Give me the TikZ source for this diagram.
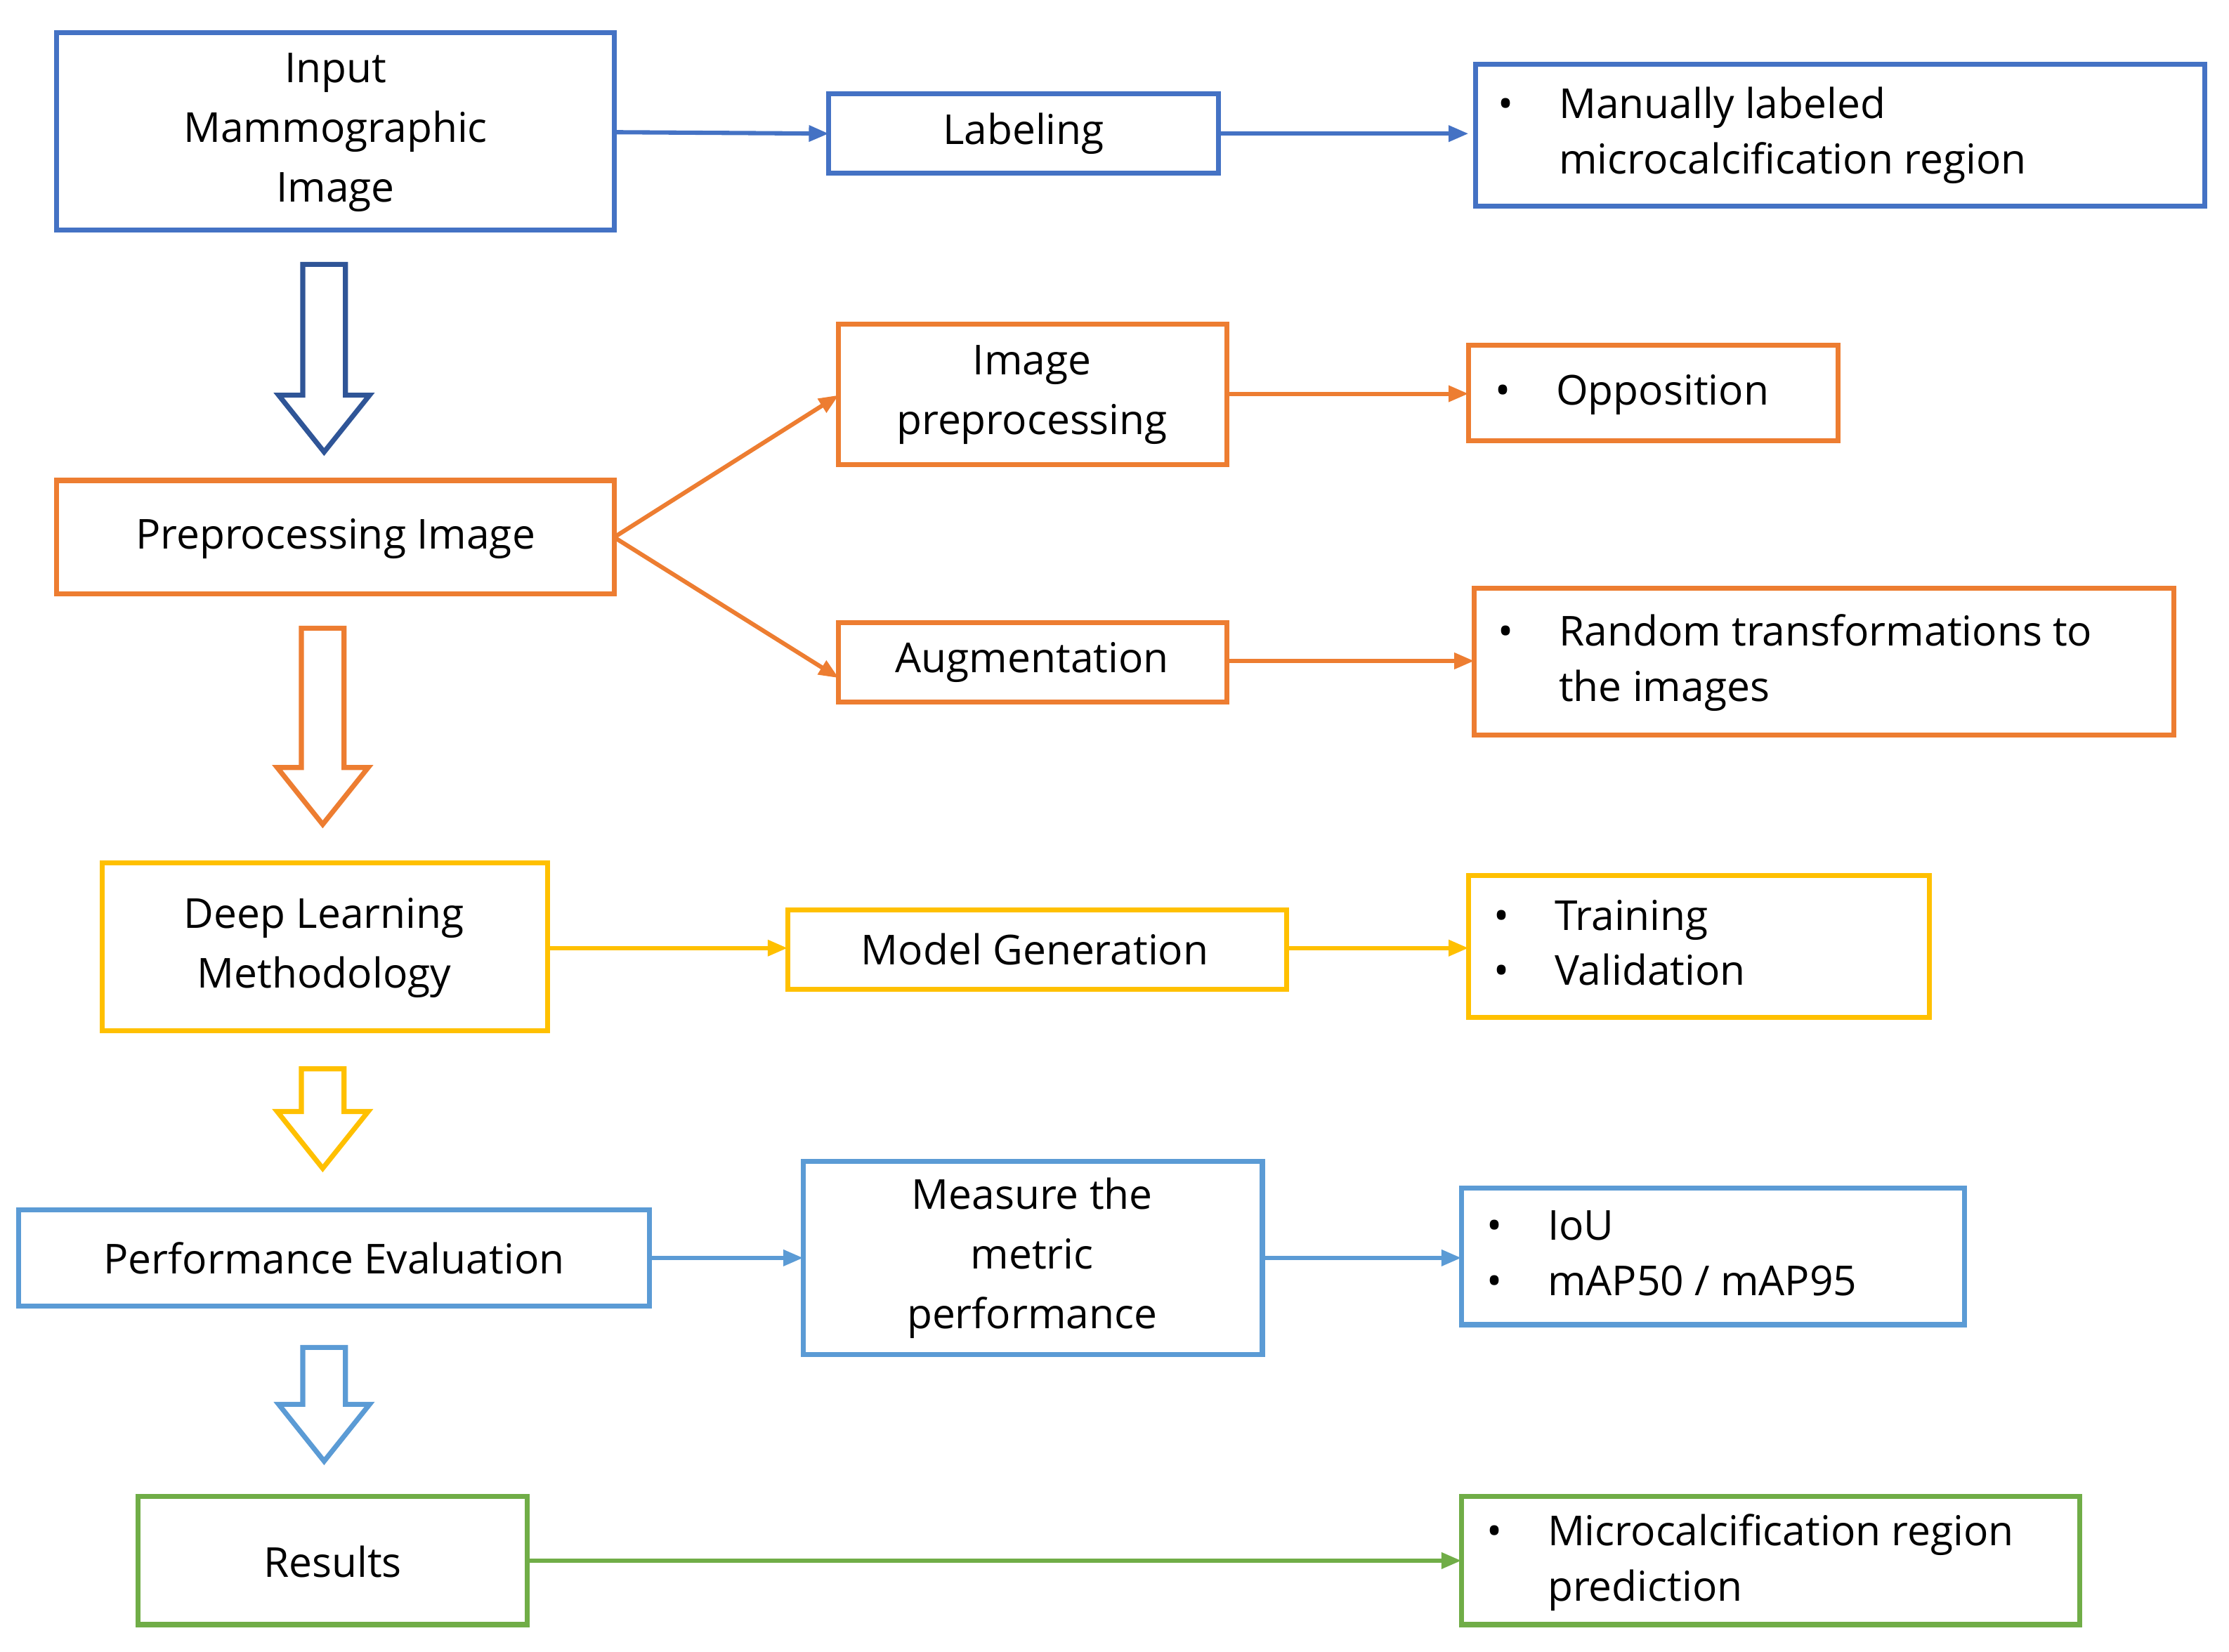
\documentclass[tikz,border=0pt]{standalone}
\usepackage{fontspec}
\setmainfont{Open Sans}
\usetikzlibrary{arrows.meta}
\definecolor{cb}{HTML}{4472C4}
\definecolor{cdb}{HTML}{2F5597}
\definecolor{co}{HTML}{ED7D31}
\definecolor{cy}{HTML}{FFC000}
\definecolor{cl}{HTML}{5B9BD5}
\definecolor{cg}{HTML}{70AD47}
\begin{document}
\begin{tikzpicture}[x=1pt,y=-1pt,line width=3.5pt,
  box/.style={draw=#1,inner sep=0pt,align=center,font=\fontsize{29}{42}\selectfont},
  txt/.style={anchor=west,inner sep=0pt,align=left,font=\fontsize{29}{39}\selectfont},
  con/.style={draw=#1,line width=3pt,-{Triangle[length=14pt,width=11pt]}}]
\useasboundingbox (0,0) rectangle (1568,1162);
\newcommand{\bx}[7]{\draw[#6] (#2,#3) rectangle (#4,#5); \node[box=#6] (#1) at ({(#2+#4)/2},{(#3+#5)/2}) [minimum width={#4-#2},minimum height={#5-#3}] {#7};}
\newcommand{\hollow}[4]{\draw[#4,line width=3.5pt,line join=miter] (#1-15,#2) -- (#1+15,#2) -- (#1+15,#3-40) -- (#1+32,#3-40) -- (#1,#3) -- (#1-32,#3-40) -- (#1-15,#3-40) -- cycle;}
\newcommand{\bl}{\textbullet}
% boxes
\draw[cb] (40,23) rectangle (432,162); \node[box=cb,draw=none] (inp) at (236,93) {Input\\Mammographic\\Image};
\coordinate (inpE) at (432,93);
\draw[cb] (583,66) rectangle (857,122); \node[box=cb,draw=none] (lab) at (720,94) {Labeling};
\draw[cb] (1038,45) rectangle (1551,145); \node[txt] (man) at (1052,95) {\begin{tabular}{@{}l@{\hspace{32pt}}l@{}}\bl&Manually labeled\\&microcalcification region\end{tabular}};
\draw[co] (40,338) rectangle (432,418); \node[box=co,draw=none] (pre) at (236,379) {Preprocessing Image};
\draw[co] (590,228) rectangle (863,327); \node[box=co,draw=none] (ipp) at (726,278) {Image\\preprocessing};
\draw[co] (1033,243) rectangle (1293,310); \node[txt] (opp) at (1050,277) {\begin{tabular}{@{}l@{\hspace{32pt}}l@{}}\bl&Opposition\end{tabular}};
\draw[co] (590,438) rectangle (863,494); \node[box=co,draw=none] (aug) at (726,466) {Augmentation};
\draw[co] (1037,414) rectangle (1529,517); \node[txt] (rnd) at (1052,466) {\begin{tabular}{@{}l@{\hspace{32pt}}l@{}}\bl&Random transformations to\\&the images\end{tabular}};
\draw[cy] (72,607) rectangle (385,725); \node[box=cy,draw=none] (dl) at (228,667) {Deep Learning\\Methodology};
\draw[cy] (554,640) rectangle (905,696); \node[box=cy,draw=none] (mg) at (728,668) {Model Generation};
\draw[cy] (1033,616) rectangle (1357,716); \node[txt] (tr) at (1049,666) {\begin{tabular}{@{}l@{\hspace{32pt}}l@{}}\bl&Training\\\bl&Validation\end{tabular}};
\draw[cl] (13,851) rectangle (457,919); \node[box=cl,draw=none] (pe) at (235,885) {Performance Evaluation};
\draw[cl] (565,817) rectangle (888,953); \node[box=cl,draw=none] (mm) at (726,885) {Measure the\\metric\\performance};
\draw[cl] (1028,836) rectangle (1382,932); \node[txt] (iou) at (1044,884) {\begin{tabular}{@{}l@{\hspace{32pt}}l@{}}\bl&IoU\\\bl&mAP50 / mAP95\end{tabular}};
\draw[cg] (97,1053) rectangle (371,1143); \node[box=cg,draw=none] (res) at (234,1099) {Results};
\draw[cg] (1028,1053) rectangle (1463,1143); \node[txt] (mp) at (1044,1099) {\begin{tabular}{@{}l@{\hspace{32pt}}l@{}}\bl&Microcalcification region\\&prediction\end{tabular}};
% connectors
\coordinate (a1) at (432,93); \coordinate (a2) at (583,94);
\draw[con=cb] (a1) -- (a2);
\coordinate (b1) at (857,94); \coordinate (b2) at (1033,94);
\draw[con=cb] (b1) -- (b2);
\coordinate (c0) at (432,378); \coordinate (c1) at (590,278); \coordinate (c2) at (590,477);
\draw[con=co] (c0) -- (c1); \draw[con=co] (c0) -- (c2);
\coordinate (d1) at (863,277); \coordinate (d2) at (1033,277);
\draw[con=co] (d1) -- (d2);
\coordinate (e1) at (863,465); \coordinate (e2) at (1037,465);
\draw[con=co] (e1) -- (e2);
\coordinate (f1) at (385,667); \coordinate (f2) at (554,667);
\draw[con=cy] (f1) -- (f2);
\coordinate (g1) at (905,667); \coordinate (g2) at (1033,667);
\draw[con=cy] (g1) -- (g2);
\coordinate (h1) at (457,885); \coordinate (h2) at (565,885);
\draw[con=cl] (h1) -- (h2);
\coordinate (i1) at (888,885); \coordinate (i2) at (1028,885);
\draw[con=cl] (i1) -- (i2);
\coordinate (j1) at (371,1098); \coordinate (j2) at (1028,1098);
\draw[con=cg] (j1) -- (j2);
% hollow arrows
\hollow{228}{186}{318}{cdb}
\hollow{227}{442}{580}{co}
\hollow{227}{752}{822}{cy}
\hollow{228}{948}{1028}{cl}
\end{tikzpicture}
\end{document}
